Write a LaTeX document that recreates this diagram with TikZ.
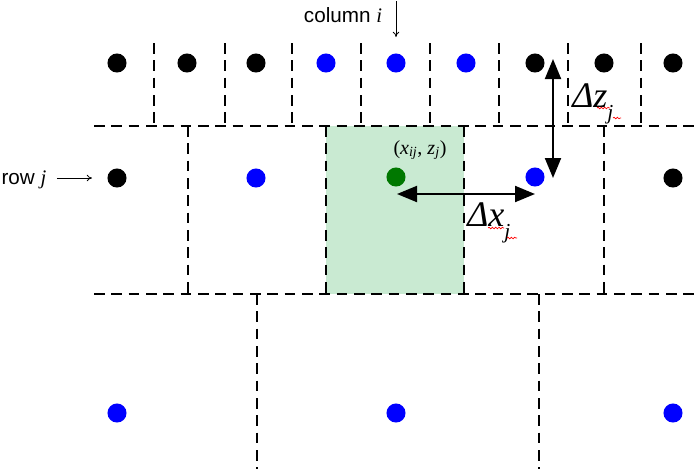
\documentclass[tikz,border=0pt]{standalone}
\usepackage{fontspec}
\setmainfont{Liberation Sans}
\newfontfamily\tms{Liberation Serif}
\usetikzlibrary{arrows.meta,decorations.pathmorphing}
\definecolor{cellgreen}{RGB}{201,234,210}
\definecolor{dotgreen}{RGB}{0,120,0}
\newcommand{\lowj}{\raisebox{-9pt}{\fontsize{16}{16}\selectfont j}}
\tikzset{
  dot/.style={circle, inner sep=0pt, minimum size=14.3pt, fill=#1},
  cell/.style={line width=1.5pt, dash pattern=on 8pt off 5pt},
  delta/.style={line width=1.5pt, {Triangle[length=15pt,width=12pt]}-{Triangle[length=15pt,width=12pt]}},
  pointer/.style={line width=0.6pt, -{To[length=4pt,width=5pt]}},
  bigmath/.style={anchor=base west, inner sep=0pt, font=\fontsize{27}{29}\selectfont\tms\itshape},
  squiggle/.style={red, line width=0.5pt, decorate, decoration={snake, amplitude=0.6pt, segment length=2.5pt}}
}
\begin{document}
\begin{tikzpicture}[x=0.75pt, y=-0.75pt]
  \useasboundingbox (0,0) rectangle (699,469);
  % shaded cell
  \fill[cellgreen] (326,126) rectangle (464,294);
  % horizontal cell borders
  \draw[cell] (94,126) -- (699,126);
  \draw[cell] (94,294) -- (699,294);
  % vertical cell borders
  \foreach \x in {154,225,292,361,430,499,568,641}
    \draw[cell] (\x,43) -- (\x,126);
  \foreach \x in {188,326,464,604}
    \draw[cell] (\x,126) -- (\x,294);
  \foreach \x in {257,539}
    \draw[cell] (\x,294) -- (\x,469);
  % top row of points
  \foreach \x/\c [count=\k] in {117/black,187/black,256/black,326/blue,396/blue,466/blue,535/black,604/black,673/black}
    \node[dot=\c] (t\k) at (\x,63) {};
  % row j
  \node[dot=black] (m1) at (117,178) {};
  \node[dot=blue] (m2) at (256,178) {};
  \node[dot=dotgreen] (g) at (396,177) {};
  \node[dot=blue] (m4) at (535,177) {};
  \node[dot=black] (m5) at (673,178) {};
  % bottom row of points
  \foreach \x [count=\k] in {117,396,673}
    \node[dot=blue] (b\k) at (\x,413) {};
  % labels for column and row
  \node[font=\fontsize{15.5}{17}\selectfont] (col) at (343,15) {column {\tms\itshape i}};
  \coordinate (colA) at (396,1);
  \coordinate (colB) at (396,37);
  \draw[pointer] (colA) -- (colB);
  \node[anchor=west, inner sep=1pt, font=\fontsize{15.5}{17}\selectfont] (row) at (0,180) {row {\tms\itshape j}};
  \coordinate (rowB) at (92,178);
  \draw[pointer] (row.east |- rowB) ++(9,0) -- (rowB);
  % point label
  \node[font=\fontsize{15}{17}\selectfont\tms] (pt) at (420,150) {(\textit{x}\textsubscript{\textit{ij}}, \textit{z}\textsubscript{\textit{j}})};
  % Arrow for delta z
  \coordinate (dzA) at (553,59);
  \coordinate (dzB) at (553,178);
  \draw[delta] (dzA) -- (dzB);
  \node[bigmath] (dz) at (572,107) {Δz\lowj};
  % Arrow for delta x
  \coordinate (dxA) at (397,194);
  \coordinate (dxB) at (535,194);
  \draw[delta] (dxA) -- (dxB);
  \node[bigmath] (dx) at (467,226) {Δx\lowj};
  % spell check marks
  \draw[squiggle] (597,108) -- (610,108);
  \draw[squiggle] (613,118) -- (621,118);
  \draw[squiggle] (488,228) -- (504,228);
  \draw[squiggle] (507,238) -- (517,238);
\end{tikzpicture}
\end{document}
